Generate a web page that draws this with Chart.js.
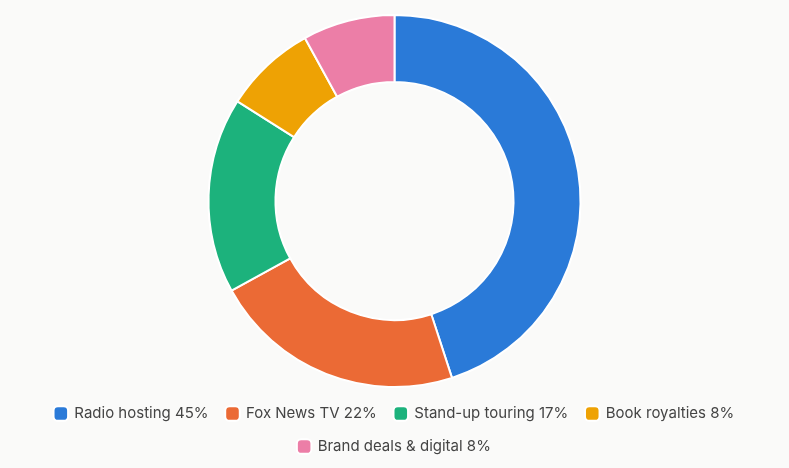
<!DOCTYPE html><html><head><script src="https://cdn.jsdelivr.net/npm/chart.js@4"></script>
<style>html,body{margin:0;background:#fafaf9;}#w{width:789px;height:468px;}</style></head><body><div id="w"><canvas id="c"></canvas></div>
<script>
const labels=["Radio hosting 45%","Fox News TV 22%","Stand-up touring 17%","Book royalties 8%","Brand deals & digital 8%"];
const values=[45,22,17,8,8];
const colors=["#2a7ad8","#eb6a35","#1cb27c","#eea204","#ec7ea7"];
new Chart(document.getElementById('c'),{type:'doughnut',
data:{labels,datasets:[{data:values,backgroundColor:colors,borderColor:'#ffffff',borderWidth:2}]},
options:{responsive:true,maintainAspectRatio:false,animation:false,cutout:'64%',
layout:{padding:{top:14,bottom:4}},
plugins:{tooltip:{enabled:false},legend:{position:'bottom',labels:{usePointStyle:true,pointStyle:'rectRounded',boxWidth:12,boxHeight:12,padding:18,color:'#444',font:{family:'Inter',size:15}}}}}});
</script></body></html>
